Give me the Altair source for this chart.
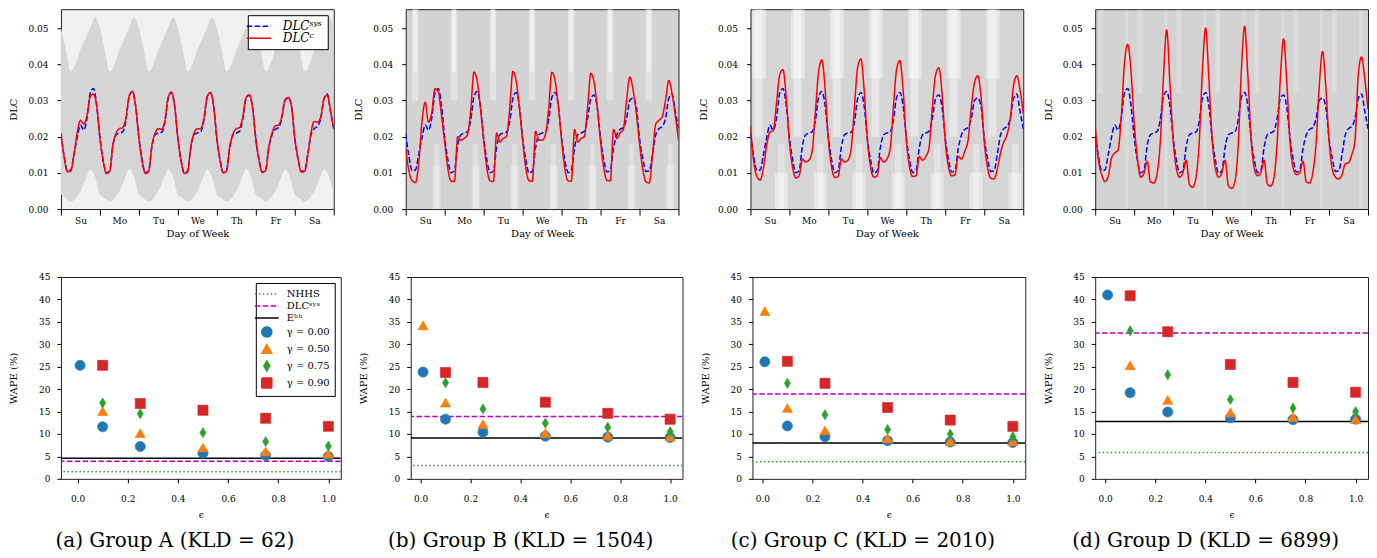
import json
import altair as alt
import pandas as pd

SERIF = "DejaVu Serif"

# ---------------- top row: DLC over a week (2-hour steps, Sunday 0h .. Saturday 24h)
DAYS = ["Su", "Mo", "Tu", "We", "Th", "Fr", "Sa"]
STEP_HOURS = 2

DLC_SYS = [
    0.0208, 0.0145, 0.0106, 0.0108, 0.0150, 0.0197, 0.0232, 0.0218, 0.0250, 0.0320, 0.0333, 0.0288,
    0.0198, 0.0135, 0.0100, 0.0106, 0.0175, 0.0205, 0.0210, 0.0213, 0.0245, 0.0310, 0.0325, 0.0285,
    0.0198, 0.0135, 0.0100, 0.0106, 0.0172, 0.0205, 0.0210, 0.0212, 0.0240, 0.0305, 0.0322, 0.0285,
    0.0196, 0.0135, 0.0099, 0.0105, 0.0170, 0.0205, 0.0210, 0.0213, 0.0245, 0.0308, 0.0322, 0.0285,
    0.0196, 0.0135, 0.0101, 0.0107, 0.0170, 0.0205, 0.0210, 0.0215, 0.0250, 0.0305, 0.0315, 0.0280,
    0.0195, 0.0136, 0.0102, 0.0108, 0.0168, 0.0205, 0.0220, 0.0225, 0.0250, 0.0300, 0.0307, 0.0283,
    0.0195, 0.0140, 0.0104, 0.0106, 0.0150, 0.0205, 0.0222, 0.0228, 0.0250, 0.0305, 0.0318, 0.0270,
    0.0222,
]

DLC_C = {
    "A": [
        0.0210, 0.0142, 0.0103, 0.0105, 0.0150, 0.0210, 0.0245, 0.0235, 0.0258, 0.0310, 0.0318, 0.0285,
        0.0195, 0.0132, 0.0098, 0.0104, 0.0178, 0.0210, 0.0222, 0.0225, 0.0252, 0.0312, 0.0325, 0.0283,
        0.0195, 0.0132, 0.0098, 0.0104, 0.0176, 0.0210, 0.0222, 0.0220, 0.0245, 0.0308, 0.0323, 0.0285,
        0.0195, 0.0132, 0.0098, 0.0103, 0.0174, 0.0210, 0.0222, 0.0222, 0.0250, 0.0310, 0.0322, 0.0285,
        0.0195, 0.0133, 0.0100, 0.0105, 0.0174, 0.0208, 0.0222, 0.0225, 0.0255, 0.0308, 0.0315, 0.0280,
        0.0192, 0.0134, 0.0101, 0.0106, 0.0172, 0.0210, 0.0230, 0.0232, 0.0255, 0.0302, 0.0308, 0.0283,
        0.0196, 0.0138, 0.0102, 0.0104, 0.0150, 0.0212, 0.0242, 0.0240, 0.0255, 0.0305, 0.0315, 0.0272,
        0.0220,
    ],
    "B": [
        0.0165, 0.0105, 0.0078, 0.0073, 0.0125, 0.0240, 0.0295, 0.0240, 0.0265, 0.0332, 0.0325, 0.0260,
        0.0185, 0.0110, 0.0077, 0.0076, 0.0200, 0.0190, 0.0195, 0.0205, 0.0270, 0.0378, 0.0355, 0.0280,
        0.0190, 0.0112, 0.0078, 0.0076, 0.0210, 0.0185, 0.0195, 0.0200, 0.0275, 0.0380, 0.0355, 0.0280,
        0.0190, 0.0112, 0.0078, 0.0077, 0.0215, 0.0190, 0.0190, 0.0205, 0.0275, 0.0378, 0.0355, 0.0285,
        0.0190, 0.0112, 0.0078, 0.0077, 0.0220, 0.0185, 0.0195, 0.0200, 0.0280, 0.0375, 0.0350, 0.0280,
        0.0185, 0.0112, 0.0079, 0.0078, 0.0220, 0.0195, 0.0210, 0.0220, 0.0300, 0.0365, 0.0330, 0.0265,
        0.0180, 0.0110, 0.0075, 0.0072, 0.0150, 0.0235, 0.0245, 0.0255, 0.0300, 0.0355, 0.0320, 0.0260,
        0.0190,
    ],
    "C": [
        0.0230, 0.0131, 0.0090, 0.0080, 0.0113, 0.0176, 0.0212, 0.0217, 0.0290, 0.0370, 0.0385, 0.0310,
        0.0185, 0.0113, 0.0086, 0.0092, 0.0138, 0.0130, 0.0135, 0.0160, 0.0270, 0.0380, 0.0412, 0.0330,
        0.0190, 0.0115, 0.0087, 0.0090, 0.0138, 0.0130, 0.0135, 0.0165, 0.0280, 0.0390, 0.0415, 0.0330,
        0.0190, 0.0115, 0.0088, 0.0092, 0.0142, 0.0130, 0.0138, 0.0165, 0.0280, 0.0385, 0.0410, 0.0330,
        0.0190, 0.0115, 0.0090, 0.0092, 0.0145, 0.0135, 0.0145, 0.0170, 0.0280, 0.0370, 0.0390, 0.0320,
        0.0185, 0.0115, 0.0092, 0.0095, 0.0145, 0.0138, 0.0160, 0.0190, 0.0280, 0.0350, 0.0368, 0.0310,
        0.0185, 0.0115, 0.0085, 0.0083, 0.0110, 0.0155, 0.0185, 0.0205, 0.0250, 0.0340, 0.0368, 0.0330,
        0.0265,
    ],
    "D": [
        0.0230, 0.0135, 0.0095, 0.0076, 0.0090, 0.0140, 0.0155, 0.0162, 0.0250, 0.0400, 0.0455, 0.0385,
        0.0240, 0.0140, 0.0088, 0.0098, 0.0132, 0.0075, 0.0072, 0.0095, 0.0180, 0.0360, 0.0495, 0.0350,
        0.0190, 0.0112, 0.0088, 0.0100, 0.0135, 0.0068, 0.0060, 0.0085, 0.0180, 0.0380, 0.0500, 0.0360,
        0.0195, 0.0112, 0.0088, 0.0100, 0.0135, 0.0065, 0.0057, 0.0075, 0.0170, 0.0380, 0.0505, 0.0370,
        0.0195, 0.0112, 0.0092, 0.0100, 0.0135, 0.0070, 0.0063, 0.0085, 0.0180, 0.0360, 0.0470, 0.0350,
        0.0185, 0.0112, 0.0095, 0.0100, 0.0132, 0.0075, 0.0072, 0.0100, 0.0180, 0.0340, 0.0435, 0.0340,
        0.0190, 0.0110, 0.0088, 0.0083, 0.0095, 0.0125, 0.0128, 0.0150, 0.0190, 0.0370, 0.0420, 0.0360,
        0.0275,
    ],
}

# household-trace background, group A: envelope per 3 hours of a day
BAND_HOURS = [0, 3, 6, 9, 12, 15, 18, 21]
BAND_A_LOW = [0.004, 0.003, 0.002, 0.003, 0.005, 0.008, 0.011, 0.009]
BAND_A_HIGH = [0.050, 0.044, 0.038, 0.040, 0.044, 0.047, 0.050, 0.053]

# household-trace background, groups B-D: lighter streaks
# (hour from, hour to, DLC from, DLC to, opacity) within each day
STRIPES = {
    "B": [(3.8, 7.8, 0.030, 0.0552, 0.35), (4.5, 7.0, 0.038, 0.0552, 0.45),
          (16.5, 21.5, 0.0, 0.012, 0.30), (17.5, 20.5, 0.0, 0.018, 0.30)],
    "C": [(1.0, 9.5, 0.036, 0.0552, 0.40), (2.5, 7.5, 0.020, 0.0552, 0.40),
          (15.0, 23.0, 0.0, 0.010, 0.40), (17.0, 21.0, 0.0, 0.018, 0.35)],
    "D": [(2.0, 5.0, 0.032, 0.0552, 0.22), (18.5, 20.5, 0.0, 0.0552, 0.20)],
}
BG_FILL = {"A": "#f0f0f0", "B": "#d3d3d3", "C": "#d5d5d5", "D": "#d3d3d3"}

# ---------------- bottom row: WAPE vs epsilon
EPSILONS = [0.01, 0.1, 0.25, 0.5, 0.75, 1.0]
GAMMA_LABELS = ["γ = 0.00", "γ = 0.50", "γ = 0.75", "γ = 0.90"]
WAPE = {
    "A": [[25.3, 11.6, 7.2, 5.7, 5.2, 5.0],
          [None, 15.1, 10.2, 7.0, 6.1, 5.6],
          [None, 16.9, 14.5, 10.3, 8.3, 7.3],
          [None, 25.3, 16.8, 15.3, 13.5, 11.7]],
    "B": [[23.8, 13.3, 10.4, 9.5, 9.3, 9.2],
          [34.2, 17.0, 12.2, 10.2, 9.6, 9.4],
          [None, 21.4, 15.6, 12.4, 11.5, 10.5],
          [None, 23.7, 21.5, 17.1, 14.6, 13.3]],
    "C": [[26.1, 11.8, 9.4, 8.5, 8.2, 8.1],
          [37.4, 15.8, 10.8, 9.0, 8.4, 8.4],
          [None, 21.3, 14.3, 11.0, 10.0, 9.4],
          [None, 26.2, 21.3, 15.9, 13.1, 11.7]],
    "D": [[41.0, 19.2, 14.9, 13.6, 13.2, 13.3],
          [None, 25.3, 17.6, 14.8, 13.8, 13.3],
          [None, 33.0, 23.2, 17.7, 15.8, 15.0],
          [None, 40.8, 32.8, 25.5, 21.5, 19.3]],
}
NHHS = {"A": 1.6, "B": 3.0, "C": 3.8, "D": 5.9}
DLC_SYS_WAPE = {"A": 3.9, "B": 13.9, "C": 18.9, "D": 32.5}
E_HH = {"A": 4.6, "B": 9.1, "C": 8.0, "D": 12.8}
KLD = {"A": 62, "B": 1504, "C": 2010, "D": 6899}
LETTERS = {"A": "a", "B": "b", "C": "c", "D": "d"}
PANELS = ["A", "B", "C", "D"]

SYS_NAME = "DLCˢʸˢ"
C_NAME = "DLCᶜ"
EHH_NAME = "Eʰʰ"
SERIES = ["NHHS", SYS_NAME, EHH_NAME] + GAMMA_LABELS
LINE_PATH = "M-2.4,0L2.4,0"
THIN_DIAMOND = "M0,-1L0.6,0L0,1L-0.6,0Z"
S_COLORS = ["#2ca02c", "#bf00bf", "#000000", "#1f77b4", "#ff7f0e", "#2ca02c", "#d62728"]
S_SHAPES = [LINE_PATH, LINE_PATH, LINE_PATH, "circle", "triangle-up", THIN_DIAMOND, "square"]
S_SIZES = [100, 100, 100, 70, 80, 100, 86]
S_DASH = [[1.5, 2.5], [5.5, 2.4], [1, 0], [1, 0], [1, 0], [1, 0], [1, 0]]

TOP_W, TOP_H = 273, 200
BOT_H = 202
# group A's bottom frame is widened to the left so that both rows share one left edge
BOT_W = {"A": 280, "B": 272, "C": 273, "D": 273}
BOT_XDOM = {"A": [-0.0662, 1.0495], "B": [-0.0395, 1.0495],
            "C": [-0.0395, 1.0495], "D": [-0.0395, 1.0495]}
XMAX = 168
YMAX_TOP = 0.0552

label_expr = ("datum.value % 24 === 12 ? " + json.dumps(DAYS) +
              "[floor(datum.value / 24)] : ''")

x_axis_top = alt.Axis(values=list(range(0, XMAX + 1, 12)), labelExpr=label_expr,
                      tickOpacity={"condition": {"test": "datum.value % 24 === 0", "value": 1},
                                   "value": 0},
                      tickSize=6, labelPadding=1, labelOverlap=False, labelFlush=False,
                      title="Day of Week", titlePadding=3, grid=False, domain=False)
y_axis_top = alt.Axis(values=[0, 0.01, 0.02, 0.03, 0.04, 0.05], format=".2f", tickSize=4,
                      labelPadding=9, title="DLC", titlePadding=8, minExtent=34, maxExtent=34,
                      grid=False, domain=False)
x_scale_top = alt.Scale(domain=[0, XMAX], nice=False, zero=False)
y_scale_top = alt.Scale(domain=[0, YMAX_TOP], nice=False)


def top_panel(key, legend_on):
    n = len(DLC_SYS)
    hours = [STEP_HOURS * i for i in range(n)]
    layers = []
    if key == "A":
        bh, lo, hi = [], [], []
        for d in range(len(DAYS)):
            for h, l, u in zip(BAND_HOURS, BAND_A_LOW, BAND_A_HIGH):
                bh.append(24 * d + h); lo.append(l); hi.append(u)
        bh.append(24 * len(DAYS)); lo.append(BAND_A_LOW[0]); hi.append(BAND_A_HIGH[0])
        band = pd.DataFrame({"hour": bh, "lo": lo, "hi": hi})
        layers.append(alt.Chart(band).mark_area(interpolate="monotone", color="#d5d5d5",
                                                clip=True).encode(
            x=alt.X("hour:Q", scale=x_scale_top, axis=x_axis_top),
            y=alt.Y("lo:Q", scale=y_scale_top, axis=y_axis_top),
            y2="hi:Q"))
    else:
        rows = []
        for d in range(len(DAYS)):
            for (h0, h1, v0, v1, op) in STRIPES[key]:
                rows.append({"h0": 24 * d + h0, "h1": 24 * d + h1, "v0": v0, "v1": v1, "op": op})
        sdf = pd.DataFrame(rows)
        layers.append(alt.Chart(sdf).mark_rect(color="white", clip=True).encode(
            x=alt.X("h0:Q", scale=x_scale_top, axis=x_axis_top), x2="h1:Q",
            y=alt.Y("v0:Q", scale=y_scale_top, axis=y_axis_top), y2="v1:Q",
            opacity=alt.Opacity("op:Q", scale=None)))

    df = pd.DataFrame({"hour": hours + hours, "dlc": DLC_SYS + DLC_C[key],
                       "line": [SYS_NAME] * n + [C_NAME] * n})
    if legend_on:
        leg = alt.Legend(orient="top-right", offset=6, title=None, fillColor="white",
                         strokeColor="black", padding=5, cornerRadius=0,
                         symbolType=LINE_PATH, symbolSize=100, symbolStrokeWidth=1.5,
                         labelFont=SERIF, labelFontSize=12, labelFontStyle="italic",
                         labelOffset=18, rowPadding=0, labelColor="black")
    else:
        leg = None
    for name in [SYS_NAME, C_NAME]:
        layers.append(alt.Chart(df).transform_filter(alt.datum.line == name)
                      .mark_line(strokeWidth=1.5, interpolate="monotone", clip=True).encode(
            x=alt.X("hour:Q", scale=x_scale_top, axis=x_axis_top),
            y=alt.Y("dlc:Q", scale=y_scale_top, axis=y_axis_top),
            color=alt.Color("line:N", scale=alt.Scale(domain=[SYS_NAME, C_NAME],
                                                      range=["#0000ff", "#ff0000"]), legend=leg),
            strokeDash=alt.StrokeDash("line:N", scale=alt.Scale(domain=[SYS_NAME, C_NAME],
                                                                range=[[5.5, 2.4], [1, 0]]),
                                      legend=leg)))
    return alt.layer(*layers).properties(
        width=TOP_W, height=TOP_H,
        view=alt.ViewBackground(fill=BG_FILL[key], stroke="#222222", strokeWidth=1))


y_scale_bot = alt.Scale(domain=[0, 45], nice=False)
x_axis_bot = alt.Axis(values=[0, 0.2, 0.4, 0.6, 0.8, 1.0], format=".1f", tickSize=4,
                      labelPadding=12, title="ϵ", titleFontSize=9, titlePadding=7,
                      grid=False, domain=False)
y_axis_bot = alt.Axis(values=list(range(0, 46, 5)), tickSize=4, labelPadding=7,
                      title="WAPE (%)", titlePadding=20, minExtent=22, maxExtent=22,
                      grid=False, domain=False)


def bottom_panel(key, legend_on):
    x_scale_bot = alt.Scale(domain=BOT_XDOM[key], nice=False, zero=False)
    rows = []
    for g, vals in zip(GAMMA_LABELS, WAPE[key]):
        for e, v in zip(EPSILONS, vals):
            if v is not None:
                rows.append({"eps": e, "wape": v, "series": g})
    pdf = pd.DataFrame(rows)
    layers = []
    line_vals = [("NHHS", NHHS[key]), (SYS_NAME, DLC_SYS_WAPE[key]), (EHH_NAME, E_HH[key])]
    for name, val in line_vals:
        i = SERIES.index(name)
        layers.append(alt.Chart(pd.DataFrame({"wape": [val]})).mark_rule(
            color=S_COLORS[i], strokeWidth=1.5, strokeDash=S_DASH[i], clip=True).encode(
            y=alt.Y("wape:Q", scale=y_scale_bot, axis=y_axis_bot)))
    if legend_on:
        leg = alt.Legend(orient="top-right", offset=6, title=None, fillColor="white",
                         strokeColor="black", padding=5, cornerRadius=0,
                         symbolStrokeWidth=1.5, labelFont=SERIF, labelFontSize=10,
                         labelOffset=14, rowPadding=1, labelColor="black")
    else:
        leg = None
    layers.append(alt.Chart(pdf).mark_point(filled=True, opacity=1, strokeWidth=0.8,
                                            clip=True).encode(
        x=alt.X("eps:Q", scale=x_scale_bot, axis=x_axis_bot),
        y=alt.Y("wape:Q", scale=y_scale_bot, axis=y_axis_bot),
        color=alt.Color("series:N", scale=alt.Scale(domain=SERIES, range=S_COLORS), legend=leg),
        stroke=alt.Stroke("series:N", scale=alt.Scale(domain=SERIES, range=S_COLORS), legend=leg),
        shape=alt.Shape("series:N", scale=alt.Scale(domain=SERIES, range=S_SHAPES), legend=leg),
        size=alt.Size("series:N", scale=alt.Scale(domain=SERIES, range=S_SIZES), legend=leg),
        strokeDash=alt.StrokeDash("series:N", scale=alt.Scale(domain=SERIES, range=S_DASH),
                                  legend=leg)))
    caption = f"({LETTERS[key]}) Group {key} (KLD = {KLD[key]})"
    return alt.layer(*layers).properties(
        width=BOT_W[key], height=BOT_H,
        view=alt.ViewBackground(fill="white", stroke="#222222", strokeWidth=1),
        title=alt.TitleParams(text=caption, orient="bottom", anchor="middle", frame="bounds",
                              font=SERIF, fontSize=20, fontWeight="normal", offset=11,
                              color="black"))


RES = dict(color="independent", stroke="independent", shape="independent",
           size="independent", strokeDash="independent", opacity="independent",
           x="independent", y="independent")

top_row = alt.hconcat(*[top_panel(k, k == "A") for k in PANELS], spacing=18).resolve_scale(**RES)
bot_row = alt.hconcat(*[bottom_panel(k, k == "A") for k in PANELS], spacing=16).resolve_scale(**RES)

chart = (alt.concat(top_row, bot_row, columns=1, spacing=33, align="none").resolve_scale(**RES)
         .properties(padding={"left": 0, "top": 0, "right": 0, "bottom": 0})
         .configure_axis(labelFont=SERIF, titleFont=SERIF, labelFontSize=9, titleFontSize=10,
                         titleFontWeight="normal", labelColor="black", titleColor="black",
                         tickColor="black", tickWidth=1)
         .configure_legend(labelFont=SERIF, labelColor="black")
         .configure_view(stroke="#222222"))

chart.save("out.html", embed_options={"renderer": "svg", "actions": False})
